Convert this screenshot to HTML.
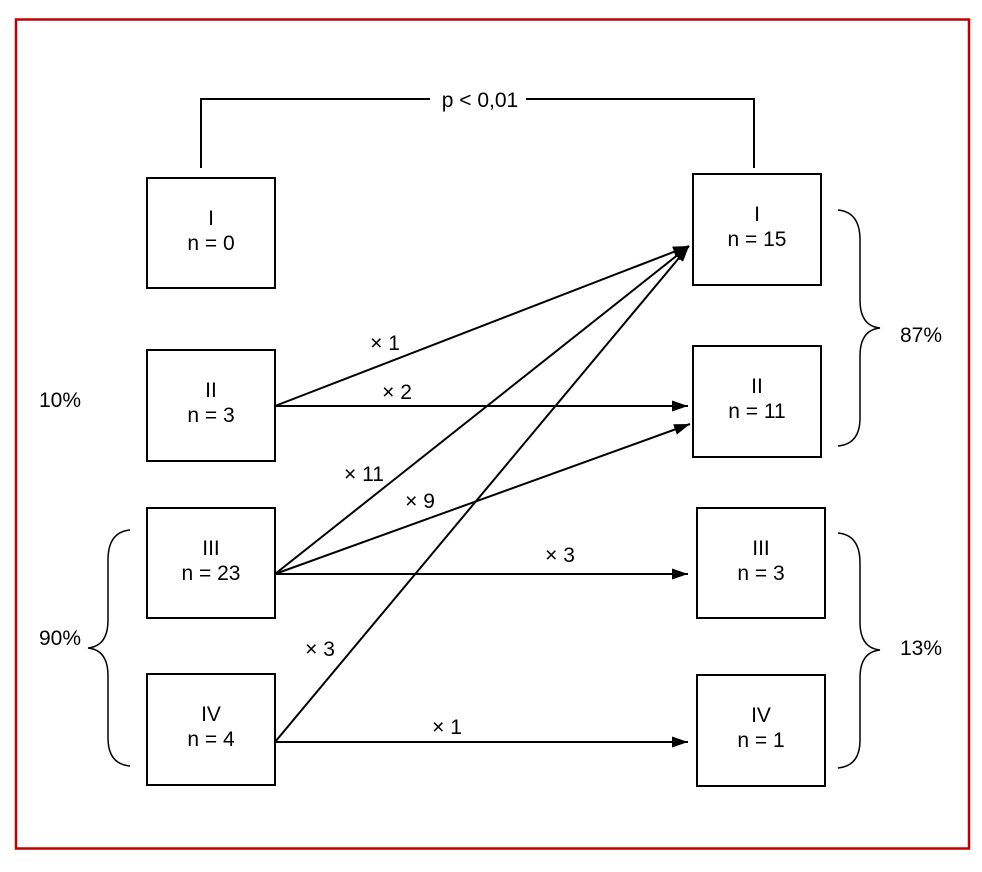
<!DOCTYPE html>
<html><head><meta charset="utf-8"><style>
body{margin:0;background:#fff}
svg text{font-family:"Liberation Sans Narrow","Liberation Sans",sans-serif;font-size:21px;fill:#000}
</style></head><body>
<svg width="982" height="867" viewBox="0 0 982 867" xmlns="http://www.w3.org/2000/svg">
<defs><marker id="a" markerWidth="16" markerHeight="11" refX="16" refY="5.5" orient="auto" markerUnits="userSpaceOnUse"><path d="M0,0 L16,5.5 L0,11 z" fill="#000"/></marker></defs>
<rect x="16" y="19.5" width="953" height="829" fill="none" stroke="#c00000" stroke-width="2.5"/>
<g fill="none" stroke="#000" stroke-width="2">
<rect x="147" y="178" width="128" height="110"/>
<rect x="147" y="350" width="128" height="111"/>
<rect x="147" y="508" width="128" height="110"/>
<rect x="147" y="674" width="128" height="111"/>
<rect x="693" y="174" width="128" height="111"/>
<rect x="693" y="346" width="128" height="111"/>
<rect x="697" y="508" width="128" height="110"/>
<rect x="697" y="675" width="128" height="111"/>
<path d="M201,168 V99 H754 V168"/>
</g>
<rect x="430" y="88" width="96" height="24" fill="#fff"/>
<text x="480" y="107" text-anchor="middle">p &lt; 0,01</text>
<g stroke="#000" stroke-width="2" marker-end="url(#a)">
<line x1="275" y1="406" x2="689" y2="246"/>
<line x1="275" y1="406" x2="688" y2="406"/>
<line x1="275" y1="574" x2="689" y2="246"/>
<line x1="275" y1="574" x2="690" y2="424"/>
<line x1="275" y1="574" x2="688" y2="574"/>
<line x1="275" y1="742" x2="689" y2="246"/>
<line x1="275" y1="742" x2="688" y2="742"/>
</g>
<g fill="none" stroke="#000" stroke-width="1.5">
<path d="M838,210 Q860,212 860,240 V300 Q860,326 880,328 Q860,330 860,356 V418 Q860,444 838,446"/>
<path d="M838,533 Q860,535 860,563 V622 Q860,648 880,650 Q860,652 860,678 V740 Q860,766 838,768"/>
<path d="M130,530 Q108,532 108,560 V620 Q108,646 88,648 Q108,650 108,676 V738 Q108,764 130,766"/>
</g>
<g text-anchor="middle">
<text x="211" y="225">I</text><text x="211" y="250">n = 0</text>
<text x="211" y="397">II</text><text x="211" y="422">n = 3</text>
<text x="211" y="555">III</text><text x="211" y="580">n = 23</text>
<text x="211" y="721">IV</text><text x="211" y="746">n = 4</text>
<text x="757" y="221">I</text><text x="757" y="246">n = 15</text>
<text x="757" y="393">II</text><text x="757" y="418">n = 11</text>
<text x="761" y="555">III</text><text x="761" y="580">n = 3</text>
<text x="761" y="722">IV</text><text x="761" y="747">n = 1</text>
<text x="60" y="407">10%</text>
<text x="60" y="645">90%</text>
<text x="921" y="342">87%</text>
<text x="921" y="655">13%</text>
<text x="385" y="350">× 1</text>
<text x="397" y="399">× 2</text>
<text x="364" y="481">× 11</text>
<text x="420" y="508">× 9</text>
<text x="560" y="562">× 3</text>
<text x="320" y="656">× 3</text>
<text x="447" y="734">× 1</text>
</g>
</svg>
</body></html>
